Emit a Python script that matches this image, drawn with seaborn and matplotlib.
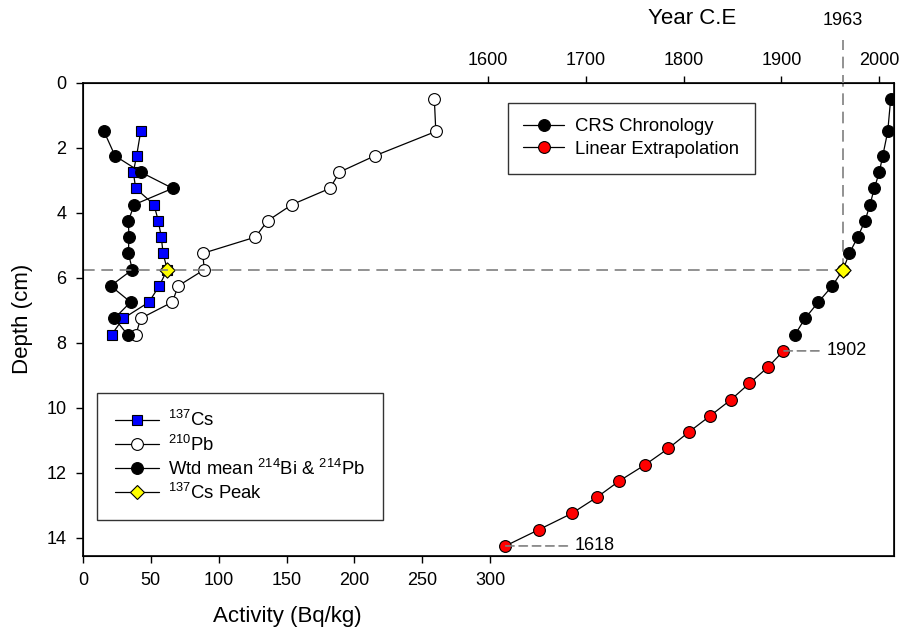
import matplotlib
matplotlib.use("Agg")
import matplotlib.pyplot as plt
import seaborn as sns
import pandas as pd
from matplotlib.lines import Line2D

sns.set_style("ticks", rc={
    "axes.edgecolor": "black", "text.color": "black", "axes.labelcolor": "black",
    "xtick.color": "black", "ytick.color": "black",
})
plt.rcParams["font.family"] = ["Liberation Sans", "DejaVu Sans"]
plt.rcParams["mathtext.fontset"] = "custom"
plt.rcParams["mathtext.rm"] = "Liberation Sans"
plt.rcParams["mathtext.it"] = "Liberation Sans:italic"

# ---- activity profiles (Bq/kg) by depth (cm) ----
depth_act = [1.5, 2.25, 2.75, 3.25, 3.75, 4.25, 4.75, 5.25, 5.75, 6.25, 6.75, 7.25, 7.75]
cs137 = [42.5, 39.5, 37.1, 38.8, 52.3, 55.5, 57.7, 59.0, 62.1, 56.2, 48.6, 29.7, 21.1]
bi_pb214 = [15.5, 23.6, 42.5, 66.1, 37.8, 33.4, 33.9, 33.4, 36.4, 20.4, 35.1, 23.1, 32.9]
depth_pb210 = [0.5, 1.5, 2.25, 2.75, 3.25, 3.75, 4.25, 4.75, 5.25, 5.75, 6.25, 6.75, 7.25, 7.75]
pb210 = [258.9, 260.0, 215.0, 189.0, 182.0, 154.0, 136.0, 127.0, 88.2, 89.4, 70.2, 65.8, 42.5, 39.0]

# ---- chronology (year C.E.) by depth ----
depth_crs = [0.5, 1.5, 2.25, 2.75, 3.25, 3.75, 4.25, 4.75, 5.25, 5.75, 6.25, 6.75, 7.25, 7.75]
year_crs = [2011.6, 2008.6, 2003.5, 2000.0, 1994.9, 1990.5, 1985.4, 1977.9, 1969.4, 1963.0,
            1952.0, 1937.7, 1924.1, 1913.9]
depth_ext = [8.25, 8.75, 9.25, 9.75, 10.25, 10.75, 11.25, 11.75, 12.25, 12.75, 13.25, 13.75, 14.25]
year_ext = [1902.0, 1886.3, 1867.2, 1848.5, 1827.1, 1805.3, 1784.5, 1760.9, 1734.4, 1711.6,
            1685.8, 1652.1, 1618.0]

peak_depth = 5.75
peak_cs = 62.1
peak_year = 1963

act_ticks = [0, 50, 100, 150, 200, 250, 300]
year_ticks = [1600, 1700, 1800, 1900, 2000]
depth_ticks = [0, 2, 4, 6, 8, 10, 12, 14]

df_cs = pd.DataFrame({"act": cs137, "depth": depth_act})
df_bi = pd.DataFrame({"act": bi_pb214, "depth": depth_act})
df_pb = pd.DataFrame({"act": pb210, "depth": depth_pb210})
df_crs = pd.DataFrame({"year": year_crs, "depth": depth_crs})
df_ext = pd.DataFrame({"year": year_ext, "depth": depth_ext})

W, H = 901, 637
fig = plt.figure(figsize=(W / 100, H / 100), dpi=100)
left, right, top, bottom = 83, 894, 82.7, 555.7
ax = fig.add_axes([left / W, 1 - bottom / H, (right - left) / W, (bottom - top) / H])

FS_TICK = 13
FS_LAB = 16
FS_LEG = 13.3
LW = 0.9
MS = 8.5

common = dict(sort=False, estimator=None, legend=False, color="black", lw=LW,
              markeredgecolor="black", markeredgewidth=0.8)

sns.lineplot(data=df_cs, x="act", y="depth", ax=ax, marker="s", markersize=7.5,
             markerfacecolor="#0000ff", **common)
sns.lineplot(data=df_pb, x="act", y="depth", ax=ax, marker="o", markersize=MS,
             markerfacecolor="white", **common)
sns.lineplot(data=df_bi, x="act", y="depth", ax=ax, marker="o", markersize=MS,
             markerfacecolor="black", **common)
sns.scatterplot(x=[peak_cs], y=[peak_depth], ax=ax, marker="D", s=60, color="#ffff00",
                edgecolor="black", linewidth=0.8, zorder=5, legend=False)

ax.set_xlim(0, (right - left) / 1.357)
ax.set_ylim(14.55, 0)
ax.set_xticks(act_ticks)
ax.set_yticks(depth_ticks)
ax.tick_params(axis="both", direction="out", length=5, width=1, labelsize=FS_TICK, pad=6)
ax.tick_params(axis="x", pad=7)
ax.tick_params(axis="y", pad=7)
for s in ax.spines.values():
    s.set_linewidth(1.2)
ax.set_xlabel("Activity (Bq/kg)", fontsize=FS_LAB)
ax.set_ylabel("Depth (cm)", fontsize=FS_LAB)
ax.xaxis.set_label_coords(0.2515, (bottom - 606) / (bottom - top))
ax.yaxis.set_label_coords((33 - left) / (right - left), 0.5)

# chronology on the upper year axis
ax2 = ax.twiny()
ax2.set_xlim(1186.5, 2015)
ax2.set_xticks(year_ticks)
ax2.tick_params(axis="x", direction="out", length=5, width=1, labelsize=FS_TICK, pad=5)
ax2.set_xlabel("Year C.E", fontsize=FS_LAB)
ax2.xaxis.set_label_coords((692 - left) / (right - left), (bottom - 24) / (bottom - top))

# 1963 reference lines
dash = dict(color="#7f7f7f", lw=1.2, dashes=(7, 4))
ax2.plot([1186.5, peak_year], [peak_depth, peak_depth], zorder=1, **dash)
ax2.plot([peak_year, peak_year], [peak_depth, -1.31], clip_on=False, zorder=1, **dash)
ax2.text(peak_year, -1.9, "1963", ha="center", va="center", fontsize=FS_TICK)

sns.lineplot(data=df_crs, x="year", y="depth", ax=ax2, marker="o", markersize=MS,
             markerfacecolor="black", **common)
sns.lineplot(data=df_ext, x="year", y="depth", ax=ax2, marker="o", markersize=MS,
             markerfacecolor="#ff0000", **common)
sns.scatterplot(x=[peak_year], y=[peak_depth], ax=ax2, marker="D", s=60, color="#ffff00",
                edgecolor="black", linewidth=0.8, zorder=5, legend=False)
ax2.set_ylim(14.55, 0)
ax2.set_ylabel("")

# labelled ends of the extrapolation
for yr, dp, off in [(year_ext[0], depth_ext[0], 31), (year_ext[-1], depth_ext[-1], 50)]:
    ax2.annotate(f"{yr:.0f}", xy=(yr, dp), xytext=(off, 0), textcoords="offset points",
                 ha="left", va="center", fontsize=FS_TICK,
                 arrowprops=dict(arrowstyle="-", color="#7f7f7f", lw=1.2, linestyle=(0, (5, 3)),
                                 shrinkA=3, shrinkB=0), zorder=2)

def handle(face, marker="o", ms=MS):
    return Line2D([], [], color="black", lw=LW, marker=marker, markersize=ms,
                  markerfacecolor=face, markeredgecolor="black", markeredgewidth=0.8)

leg1 = fig.legend([handle("black"), handle("#ff0000")],
                  ["CRS Chronology", "Linear Extrapolation"],
                  loc="upper left", bbox_to_anchor=(507.7 / W, 1 - 102.7 / H),
                  fontsize=FS_LEG, frameon=True, fancybox=False, edgecolor="black",
                  handlelength=2.2, handletextpad=0.6, borderpad=0.85, labelspacing=0.3,
                  borderaxespad=0)
leg1.get_frame().set_linewidth(1.0)

leg2 = fig.legend([handle("#0000ff", "s", 7.5), handle("white"), handle("black"),
                   handle("#ffff00", "D", 7.5)],
                  [r"$^{137}$Cs", r"$^{210}$Pb", r"Wtd mean $^{214}$Bi & $^{214}$Pb",
                   r"$^{137}$Cs Peak"],
                  loc="upper left", bbox_to_anchor=(97.3 / W, 1 - 392.7 / H),
                  fontsize=FS_LEG, frameon=True, fancybox=False, edgecolor="black",
                  handlelength=2.4, handletextpad=0.5, borderpad=0.95, labelspacing=0.22,
                  borderaxespad=0)
leg2.get_frame().set_linewidth(1.0)

fig.savefig("out.png", dpi=100)
